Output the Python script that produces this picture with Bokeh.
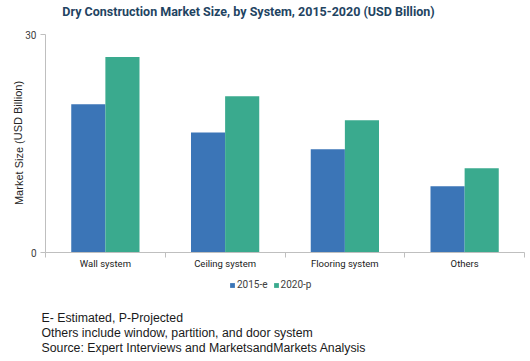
from bokeh.plotting import figure
from bokeh.models import (Range1d, FixedTicker, Label, Legend, LegendItem, ColumnDataSource)
from bokeh.embed import file_html
from bokeh.resources import INLINE

categories = ["Wall system", "Ceiling system", "Flooring system", "Others"]
series_names = ["2015-e", "2020-p"]
values_2015 = [20.4, 16.5, 14.2, 9.1]
values_2020 = [26.9, 21.5, 18.2, 11.6]
y_ticks = [0, 30]
title_text = "Dry Construction Market Size, by System, 2015-2020 (USD Billion)"
y_label = "Market Size (USD Billion)"
notes = ["E- Estimated, P-Projected",
         "Others include window, partition, and door system",
         "Source: Expert Interviews and MarketsandMarkets Analysis"]

BLUE = "#3b75b7"
GREEN = "#3aaa8e"
GRAY = "#bfbfbf"
FONT = "Roboto"
NOTE_FONT = "Liberation Sans"

# canvas and plot-area layout (pixels)
W, H = 530, 361
AX_L, AX_R, AX_T, AX_B = 45, 524, 34, 252
YMAX = 30
n = len(categories)
sx = (AX_R - AX_L) / n
sy = (AX_B - AX_T) / YMAX

def dx(px):
    return (px - AX_L) / sx

def dy(py):
    return (AX_B - py) / sy

p = figure(width=W, height=H, output_backend="svg", toolbar_location=None, title=None,
           x_range=Range1d(dx(0), dx(W)), y_range=Range1d(dy(H), dy(0)),
           min_border=0)
p.outline_line_color = None
p.grid.visible = False

bw = 0.285
centers = [i + 0.5 for i in range(n)]
src1 = ColumnDataSource(dict(x=[c - bw / 2 for c in centers], top=values_2015))
src2 = ColumnDataSource(dict(x=[c + bw / 2 for c in centers], top=values_2020))
r1 = p.vbar(x="x", top="top", width=bw, source=src1, fill_color=BLUE, line_color=None)
r2 = p.vbar(x="x", top="top", width=bw, source=src2, fill_color=GREEN, line_color=None)

# x axis
xa = p.xaxis[0]
xa.fixed_location = 0
xa.bounds = (0, n)
xa.ticker = FixedTicker(ticks=centers, minor_ticks=list(range(n + 1)))
xa.major_label_overrides = {c: cat for c, cat in zip(centers, categories)}
xa.major_tick_out = 0
xa.major_tick_in = 0
xa.minor_tick_out = 5
xa.minor_tick_in = 0
xa.minor_tick_line_color = GRAY
xa.axis_line_color = GRAY
xa.major_label_text_font = FONT
xa.major_label_text_font_size = "9.5px"
xa.major_label_text_color = "#1a1a1a"
xa.major_label_standoff = 0

ya = p.yaxis[0]
ya.fixed_location = 0
ya.bounds = (0, YMAX)
ya.ticker = FixedTicker(ticks=y_ticks, minor_ticks=[])
ya.axis_line_color = GRAY
ya.major_tick_line_color = GRAY
ya.major_tick_out = 5
ya.major_tick_in = 0
ya.minor_tick_out = 0
ya.minor_tick_in = 0
ya.major_label_text_font = FONT
ya.major_label_text_font_size = "10px"
ya.major_label_text_color = "#404040"
ya.major_label_standoff = 4

# title
p.add_layout(Label(x=dx(248), y=dy(11), text=title_text, text_align="center",
                   text_baseline="middle", text_font=FONT, text_font_size="12.5px",
                   text_font_style="bold", text_color="#1f4462"))

# y axis title
p.add_layout(Label(x=dx(18), y=dy(142.5), text=y_label, angle=1.5708,
                   text_align="center", text_baseline="middle",
                   text_font=NOTE_FONT, text_font_size="11px", text_color="#262626"))

legend = Legend(items=[LegendItem(label=series_names[0], renderers=[r1]),
                       LegendItem(label=series_names[1], renderers=[r2])],
                orientation="horizontal", location=(229, 71),
                glyph_width=6, glyph_height=6, label_text_font=FONT,
                label_text_font_size="10px", label_text_color="#404040",
                padding=0, margin=0, spacing=5, label_standoff=2,
                border_line_color=None, background_fill_alpha=0)
p.add_layout(legend, "center")

for t, py in zip(notes, [317, 332, 347]):
    p.add_layout(Label(x=dx(41), y=dy(py), text=t, text_align="left",
                       text_baseline="middle", text_font=NOTE_FONT,
                       text_font_size="12.3px", text_color="#1a1a1a"))

open("out.html", "w").write(file_html(p, INLINE))
